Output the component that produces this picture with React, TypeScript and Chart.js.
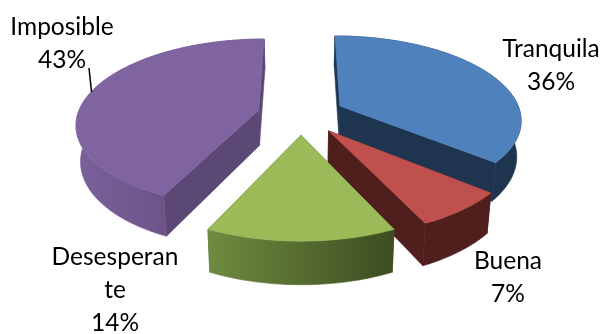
import React, { useEffect, useRef } from "react";
import { Chart, registerables } from "chart.js";

Chart.register(...registerables);

// Survey shares, in drawing sequence clockwise from twelve o'clock.
const categories = ["Tranquila", "Buena", "Desesperante", "Imposible"];
const shares = [36, 7, 14, 43];
const labelLines = [["Tranquila"], ["Buena"], ["Desesperan", "te"], ["Imposible"]];

const topColors = ["#4f81bd", "#c0504d", "#9bbb59", "#8064a2"];
const cutColors = ["#1f344f", "#4f1f1d", "#4a5c2a", "#5c4875"];
const rimLeftColors = ["#1f344f", "#4f1f1d", "#6f8c40", "#7b609b"];
const rimRightColors = ["#1f344f", "#4f1f1d", "#3d4c20", "#5b4774"];

// Slices are painted far to near so the front ones overlap the back ones.
const paintOrder = [0, 3, 1, 2];

const labelAnchors = [
  { x: 551, y: 49 },
  { x: 508, y: 261 },
  { x: 115, y: 257 },
  { x: 62, y: 27 },
];

// Camera used to lay the flat pie down on a tilted plane.
const view = { cx: 301, cy: 114.5, sx: 181, sy: 83, perspective: 0.15, depth: 35.5, bottomShrink: 0.98 };

type Pt = { x: number; y: number };

function project(u: number, v: number, lower: boolean): Pt {
  const s = 1 / (1 - view.perspective * v);
  const x = view.sx * u * s;
  const y = view.cy + view.sy * v * s;
  return lower
    ? { x: view.cx + x * view.bottomShrink, y: y + view.depth * s }
    : { x: view.cx + x, y };
}

// Fills a polygon and strokes it in the same paint so neighbouring faces leave no seam.
function paint(ctx: CanvasRenderingContext2D, pts: Pt[], style: string | CanvasGradient) {
  ctx.beginPath();
  pts.forEach((p, i) => (i ? ctx.lineTo(p.x, p.y) : ctx.moveTo(p.x, p.y)));
  ctx.closePath();
  ctx.fillStyle = style;
  ctx.strokeStyle = style;
  ctx.lineWidth = 0.6;
  ctx.lineJoin = "round";
  ctx.fill();
  ctx.stroke();
}

const pie3d = {
  id: "pie3d",
  beforeDatasetsDraw(chart: any) {
    const { ctx } = chart;
    const arcs = chart.getDatasetMeta(0).data;
    for (const index of paintOrder) {
      const arc = arcs[index];
      const { startAngle, endAngle, outerRadius } = arc.getProps(["startAngle", "endAngle", "outerRadius"]);
      const mid = (startAngle + endAngle) / 2;
      const d = arc.options.offset / outerRadius;
      const u0 = d * Math.cos(mid);
      const v0 = d * Math.sin(mid);
      const steps = Math.max(8, Math.round((endAngle - startAngle) * 30));

      const rim: [number, number][] = [];
      for (let i = 0; i <= steps; i++) {
        const a = startAngle + ((endAngle - startAngle) * i) / steps;
        rim.push([u0 + Math.cos(a), v0 + Math.sin(a)]);
      }
      const upper = rim.map(([u, v]) => project(u, v, false));
      const lower = rim.map(([u, v]) => project(u, v, true));
      const apexUp = project(u0, v0, false);
      const apexLow = project(u0, v0, true);

      ctx.save();
      // Flat cut faces along both straight edges.
      paint(ctx, [apexUp, upper[0], lower[0], apexLow], cutColors[index]);
      paint(ctx, [apexUp, upper[steps], lower[steps], apexLow], cutColors[index]);

      // Curved outer wall.
      const xs = upper.concat(lower).map((p) => p.x);
      const grad = ctx.createLinearGradient(Math.min(...xs), 0, Math.max(...xs), 0);
      grad.addColorStop(0, rimLeftColors[index]);
      grad.addColorStop(1, rimRightColors[index]);
      paint(ctx, upper.concat(lower.slice().reverse()), grad);

      // Top face.
      paint(ctx, [apexUp, ...upper], arc.options.backgroundColor);
      ctx.restore();
    }
    return false;
  },
  afterDraw(chart: any) {
    const { ctx } = chart;
    const total = shares.reduce((a, b) => a + b, 0);
    ctx.save();
    ctx.fillStyle = "#000000";
    ctx.font = '24.5px Lato, "Open Sans", sans-serif';
    ctx.textAlign = "center";
    ctx.textBaseline = "middle";
    categories.forEach((_, i) => {
      const lines = [...labelLines[i], `${Math.round((shares[i] / total) * 100)}%`];
      lines.forEach((line, l) => ctx.fillText(line, labelAnchors[i].x, labelAnchors[i].y + l * 33));
    });
    // Leader line for the largest slice's label.
    ctx.strokeStyle = "#000000";
    ctx.lineWidth = 1.5;
    ctx.beginPath();
    ctx.moveTo(89, 68);
    ctx.lineTo(91.5, 92);
    ctx.stroke();
    ctx.restore();
  },
};

export default function App() {
  const ref = useRef<HTMLCanvasElement>(null);
  useEffect(() => {
    document.body.style.margin = "0";
    const chart = new Chart(ref.current!, {
      type: "pie",
      data: {
        labels: categories,
        datasets: [{ data: shares, backgroundColor: topColors, offset: 36, borderWidth: 0 }],
      },
      options: {
        animation: false,
        responsive: false,
        events: [],
        plugins: { legend: { display: false }, tooltip: { enabled: false } },
      },
      plugins: [pie3d],
    });
    return () => chart.destroy();
  }, []);
  return <canvas ref={ref} width={604} height={334} style={{ display: "block" }} />;
}
